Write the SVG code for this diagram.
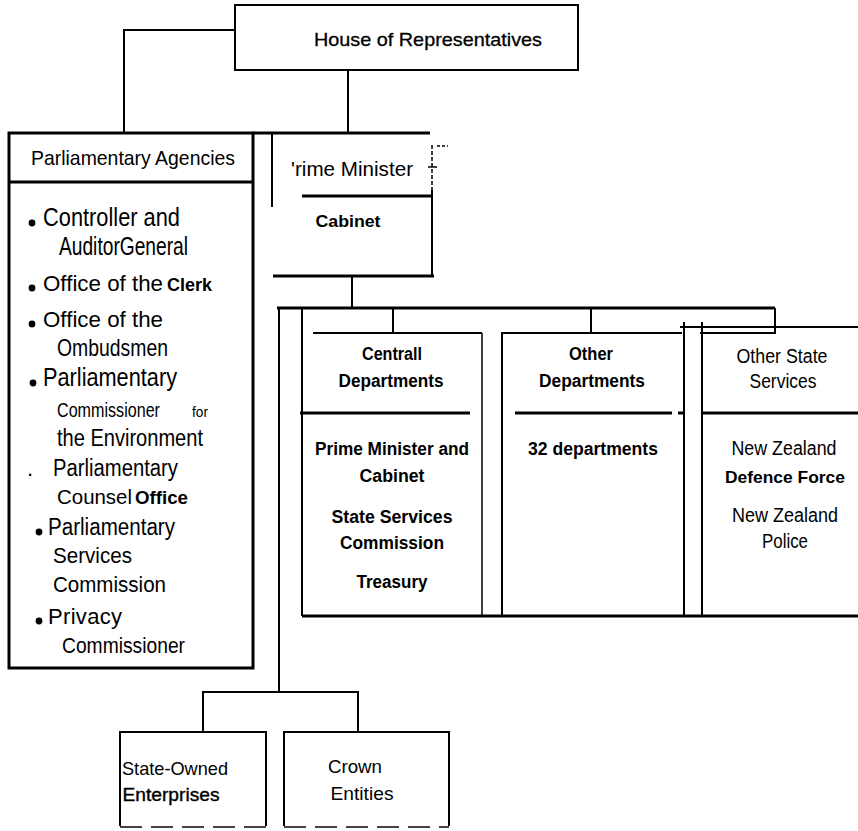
<svg xmlns="http://www.w3.org/2000/svg" width="858" height="831" viewBox="0 0 858 831">
<style>
.thick{stroke:#000;stroke-width:3;fill:none}
.thin{stroke:#000;stroke-width:2;fill:none}
.hair{stroke:#000;stroke-width:1.5;fill:none}
.t{font-family:"Liberation Sans",Arial,Helvetica,sans-serif;fill:#000}
.b{font-weight:bold}
.m{text-anchor:middle}
.dash{stroke:#444;stroke-width:2;fill:none;stroke-dasharray:22 9}
</style>
<rect width="858" height="831" fill="#fff"/>

<g id="connectors">
  <path class="thin" d="M235,30 H124 V133"/>
  <path class="thin" d="M348,70 V133"/>
  <path class="thin" d="M352,276 V308"/>
  <path class="thick" d="M277,308 H775"/>
  <path class="thin" d="M775,308 V333 H700"/>
  <path class="thin" d="M393,308 V333"/>
  <path class="thin" d="M591,308 V333"/>
  <path class="thin" d="M279,308 V692"/>
  <path class="thin" d="M203,732 V692 H358 V732"/>
  <path class="thin" d="M684,322 V616"/>
  <path class="thick" d="M302,616 H858"/>
</g>

<g id="house">
  <rect class="thin" x="235" y="5" width="343" height="65"/>
  <text class="t m" x="428" y="46" font-size="19" textLength="228" lengthAdjust="spacingAndGlyphs" stroke="#000" stroke-width="0.3">House of Representatives</text>
</g>

<g id="parliamentary-agencies">
  <rect class="thick" x="9" y="133" width="244" height="535"/>
  <path class="thick" d="M9,182 H253"/>
  <text class="t" x="31" y="165" font-size="21" textLength="204" lengthAdjust="spacingAndGlyphs">Parliamentary Agencies</text>
  <circle cx="32" cy="223" r="3.4"/>
  <text class="t" x="43" y="226" font-size="25" textLength="137" lengthAdjust="spacingAndGlyphs">Controller and</text>
  <text class="t" x="59" y="255" font-size="25" textLength="129" lengthAdjust="spacingAndGlyphs">AuditorGeneral</text>
  <circle cx="32" cy="288" r="3.4"/>
  <text class="t" x="43" y="291" font-size="22" textLength="120" lengthAdjust="spacingAndGlyphs">Office of the</text>
  <text class="t b" x="167" y="291" font-size="18" textLength="45" lengthAdjust="spacingAndGlyphs">Clerk</text>
  <circle cx="32" cy="324" r="3.4"/>
  <text class="t" x="43" y="327" font-size="22" textLength="120" lengthAdjust="spacingAndGlyphs">Office of the</text>
  <text class="t" x="57" y="356" font-size="24" textLength="111" lengthAdjust="spacingAndGlyphs">Ombudsmen</text>
  <circle cx="33" cy="383" r="3.4"/>
  <text class="t" x="43" y="386" font-size="25" textLength="134" lengthAdjust="spacingAndGlyphs">Parliamentary</text>
  <text class="t" x="57" y="417" font-size="21" textLength="103" lengthAdjust="spacingAndGlyphs">Commissioner</text>
  <text class="t" x="192" y="417" font-size="15" textLength="16" lengthAdjust="spacingAndGlyphs">for</text>
  <text class="t" x="57" y="446" font-size="23" textLength="146" lengthAdjust="spacingAndGlyphs">the Environment</text>
  <text class="t" x="27" y="476" font-size="22">.</text>
  <text class="t" x="53" y="476" font-size="23" textLength="125" lengthAdjust="spacingAndGlyphs">Parliamentary</text>
  <text class="t" x="57" y="504" font-size="21" textLength="75" lengthAdjust="spacingAndGlyphs">Counsel</text>
  <text class="t b" x="135" y="504" font-size="18" textLength="53" lengthAdjust="spacingAndGlyphs">Office</text>
  <circle cx="39" cy="532" r="3.4"/>
  <text class="t" x="48" y="535" font-size="23" textLength="127" lengthAdjust="spacingAndGlyphs">Parliamentary</text>
  <text class="t" x="53" y="563" font-size="22" textLength="79" lengthAdjust="spacingAndGlyphs">Services</text>
  <text class="t" x="53" y="592" font-size="22" textLength="113" lengthAdjust="spacingAndGlyphs">Commission</text>
  <circle cx="39" cy="621" r="3.4"/>
  <text class="t" x="48" y="624" font-size="22" textLength="74" lengthAdjust="spacing">Privacy</text>
  <text class="t" x="62" y="653" font-size="22" textLength="123" lengthAdjust="spacingAndGlyphs">Commissioner</text>
</g>

<g id="pm-cabinet">
  <path class="thick" d="M253,133 H430"/>
  <path class="thin" d="M272,133 V207"/>
  <path class="hair" d="M432,145 V190" stroke-dasharray="4 2"/>
  <path class="thin" d="M432,190 V276"/>
  <path class="hair" d="M428,167 H437"/>
  <path class="hair" d="M437,146 H448" stroke-dasharray="3 2"/>
  <path class="thick" d="M302,196 H433"/>
  <path class="thick" d="M273,276 H434"/>
  <text class="t" x="291" y="176" font-size="21" textLength="122" lengthAdjust="spacingAndGlyphs">'rime  Minister</text>
  <text class="t b m" x="348" y="227" font-size="17" textLength="65" lengthAdjust="spacingAndGlyphs">Cabinet</text>
</g>

<g id="central-departments">
  <path class="thin" d="M302,308 V616"/>
  <path class="thin" d="M313,333 H482"/>
  <path class="hair" d="M482,333 V616"/>
  <path class="thick" d="M300,413 H470"/>
  <text class="t b m" x="392" y="360" font-size="18" textLength="60" lengthAdjust="spacingAndGlyphs">Centrall</text>
  <text class="t b m" x="391" y="387" font-size="18" textLength="105" lengthAdjust="spacingAndGlyphs">Departments</text>
  <text class="t b m" x="392" y="455" font-size="18" textLength="154" lengthAdjust="spacingAndGlyphs">Prime Minister and</text>
  <text class="t b m" x="392" y="482" font-size="18" textLength="65" lengthAdjust="spacingAndGlyphs">Cabinet</text>
  <text class="t b m" x="392" y="523" font-size="18" textLength="121" lengthAdjust="spacingAndGlyphs">State Services</text>
  <text class="t b m" x="392" y="549" font-size="18" textLength="104" lengthAdjust="spacingAndGlyphs">Commission</text>
  <text class="t b m" x="392" y="588" font-size="18" textLength="71" lengthAdjust="spacingAndGlyphs">Treasury</text>
</g>

<g id="other-departments">
  <path class="thin" d="M502,616 V333 H682"/>
  <path class="thick" d="M515,413 H672"/>
  <path class="thick" d="M678,413 H684"/>
  <text class="t b m" x="591" y="360" font-size="18" textLength="44" lengthAdjust="spacingAndGlyphs">Other</text>
  <text class="t b m" x="592" y="387" font-size="18" textLength="106" lengthAdjust="spacingAndGlyphs">Departments</text>
  <text class="t b m" x="593" y="455" font-size="18" textLength="130" lengthAdjust="spacingAndGlyphs">32 departments</text>
</g>

<g id="other-state-services">
  <path class="thin" d="M680,327 H858"/>
  <path class="thin" d="M702,322 V616"/>
  <path class="thick" d="M702,413 H858"/>
  <text class="t m" x="782" y="363" font-size="20" textLength="91" lengthAdjust="spacingAndGlyphs">Other State</text>
  <text class="t m" x="783" y="388" font-size="20" textLength="67" lengthAdjust="spacingAndGlyphs">Services</text>
  <text class="t m" x="784" y="455" font-size="20" textLength="105" lengthAdjust="spacingAndGlyphs">New  Zealand</text>
  <text class="t b m" x="785" y="483" font-size="17" textLength="120" lengthAdjust="spacingAndGlyphs">Defence Force</text>
  <text class="t m" x="785" y="522" font-size="20" textLength="106" lengthAdjust="spacingAndGlyphs">New  Zealand</text>
  <text class="t m" x="785" y="548" font-size="20" textLength="46" lengthAdjust="spacingAndGlyphs">Police</text>
</g>

<g id="state-owned-enterprises">
  <path class="thin" d="M120,826 V732 H266 V826"/>
  <path class="dash" d="M120,827 H266"/>
  <text class="t m" x="175" y="775" font-size="19" textLength="106" lengthAdjust="spacingAndGlyphs">State-Owned</text>
  <text class="t m" x="171" y="801" font-size="19" textLength="97" lengthAdjust="spacingAndGlyphs" stroke="#000" stroke-width="0.4">Enterprises</text>
</g>

<g id="crown-entities">
  <path class="thin" d="M284,826 V732 H449 V826"/>
  <path class="dash" d="M284,827 H449"/>
  <text class="t m" x="355" y="773" font-size="19" textLength="54" lengthAdjust="spacingAndGlyphs">Crown</text>
  <text class="t m" x="362" y="800" font-size="19" textLength="63" lengthAdjust="spacingAndGlyphs">Entities</text>
</g>
</svg>
